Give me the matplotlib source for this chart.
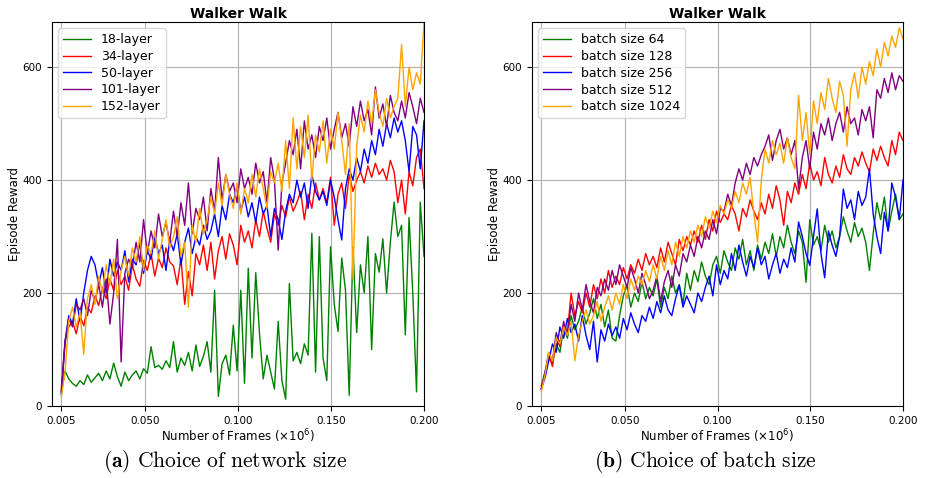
import numpy as np
import matplotlib
matplotlib.use("Agg")
import matplotlib.pyplot as plt

# eixo x comum (milhoes de frames)
frames = np.linspace(0.005, 0.2, 98)

# (a) tamanho da rede
net_labels = ["18-layer", "34-layer", "50-layer", "101-layer", "152-layer"]
layer18 = [25, 62, 48, 40, 35, 45, 38, 55, 42, 50,
           58, 45, 62, 48, 76, 52, 35, 60, 45, 55,
           62, 48, 66, 58, 105, 68, 72, 65, 80, 68,
           114, 60, 85, 72, 95, 62, 108, 70, 88, 114,
           60, 205, 17, 75, 90, 55, 143, 62, 205, 40,
           244, 85, 236, 129, 48, 90, 60, 30, 150, 45,
           12, 217, 80, 95, 75, 110, 90, 306, 60, 300,
           85, 45, 282, 180, 132, 262, 205, 19, 282, 130,
           250, 200, 300, 100, 270, 237, 296, 200, 290, 361,
           300, 320, 126, 334, 200, 25, 361, 265]
layer34 = [30, 115, 140, 150, 128, 160, 142, 175, 165, 195,
           178, 210, 190, 225, 205, 240, 215, 230, 205, 250,
           225, 212, 258, 240, 270, 230, 262, 245, 280, 255,
           248, 215, 262, 180, 238, 195, 270, 250, 285, 240,
           290, 225, 275, 300, 260, 305, 285, 250, 320, 290,
           310, 280, 330, 300, 345, 315, 290, 340, 320, 355,
           335, 370, 345, 360, 380, 330, 375, 350, 395, 365,
           385, 360, 405, 320, 375, 395, 350, 410, 380, 400,
           415, 395, 425, 405, 430, 410, 420, 400, 435, 415,
           360, 400, 340, 415, 390, 440, 455, 385]
layer50 = [20, 115, 160, 145, 190, 150, 200, 240, 265, 250,
           215, 245, 200, 260, 230, 255, 240, 275, 220, 260,
           250, 290, 235, 275, 260, 300, 270, 285, 240, 295,
           275, 305, 250, 290, 315, 270, 300, 285, 320, 295,
           310, 340, 300, 355, 330, 375, 360, 390, 345, 370,
           335, 360, 325, 370, 340, 355, 300, 350, 330, 295,
           345, 375, 360, 400, 370, 395, 350, 410, 380, 365,
           380, 355, 400, 370, 330, 294, 385, 420, 400, 440,
           415, 455, 430, 470, 445, 490, 460, 500, 475, 510,
           485, 505, 470, 415, 495, 480, 420, 505]
layer101 = [25, 110, 155, 140, 180, 170, 190, 160, 205, 185,
            215, 175, 225, 145, 200, 295, 78, 235, 260, 245,
            290, 255, 330, 270, 310, 280, 340, 300, 325, 290,
            345, 300, 360, 320, 395, 305, 350, 330, 370, 310,
            385, 345, 440, 365, 410, 380, 395, 360, 420, 385,
            405, 375, 430, 395, 415, 360, 440, 400, 276, 395,
            430, 470, 445, 490, 420, 505, 455, 480, 440, 495,
            470, 510, 455, 490, 520, 475, 500, 460, 530, 495,
            540, 505, 525, 480, 565, 510, 535, 495, 550, 520,
            505, 540, 510, 555, 530, 500, 545, 520]
layer152 = [15, 60, 150, 175, 140, 165, 92, 190, 215, 180,
            230, 200, 250, 215, 260, 190, 240, 265, 230, 280,
            255, 300, 240, 285, 270, 310, 260, 295, 330, 280,
            300, 335, 265, 290, 175, 320, 290, 350, 305, 330,
            370, 340, 395, 355, 410, 375, 350, 395, 340, 385,
            360, 410, 370, 420, 385, 350, 415, 395, 430, 380,
            470, 385, 510, 420, 495, 440, 515, 400, 480, 450,
            505, 430, 490, 455, 520, 470, 410, 500, 225, 460,
            515, 485, 540, 500, 560, 520, 495, 545, 510, 530,
            545, 640, 530, 600, 560, 590, 570, 680]

# (b) tamanho do batch
batch_labels = ["batch size 64", "batch size 128", "batch size 256",
                "batch size 512", "batch size 1024"]
batch64 = [35, 60, 85, 75, 110, 95, 140, 120, 160, 135,
           150, 175, 145, 165, 190, 155, 180, 140, 170, 120,
           115, 160, 195, 214, 175, 200, 185, 220, 190, 210,
           195, 225, 175, 210, 190, 230, 200, 215, 180, 235,
           205, 240, 220, 255, 230, 215, 250, 265, 235, 275,
           255, 240, 280, 260, 295, 250, 275, 240, 285, 260,
           290, 270, 305, 265, 300, 280, 320, 290, 270, 310,
           290, 219, 330, 285, 300, 275, 320, 290, 310, 280,
           300, 335, 310, 290, 325, 300, 315, 290, 240, 305,
           360, 330, 370, 310, 345, 375, 330, 340]
batch128 = [30, 55, 90, 70, 120, 105, 145, 130, 200, 160,
            185, 165, 200, 175, 215, 190, 225, 200, 240, 210,
            230, 215, 245, 225, 250, 235, 260, 240, 270, 250,
            265, 245, 280, 255, 290, 270, 250, 295, 275, 300,
            285, 310, 290, 320, 295, 330, 310, 345, 325, 340,
            330, 355, 340, 310, 350, 335, 365, 345, 330, 360,
            340, 375, 350, 390, 365, 320, 380, 360, 395, 375,
            410, 385, 430, 400, 415, 390, 440, 410, 395, 425,
            405, 445, 420, 410, 440, 425, 450, 430, 415, 455,
            435, 460, 440, 425, 470, 445, 485, 470]
batch256 = [30, 50, 80, 110, 95, 140, 120, 155, 130, 145,
            115, 160, 125, 100, 150, 78, 135, 115, 145, 125,
            140, 120, 155, 135, 165, 145, 130, 160, 150, 175,
            155, 185, 165, 195, 170, 160, 190, 214, 175, 195,
            180, 165, 200, 185, 210, 230, 195, 250, 215, 240,
            225, 270, 240, 285, 255, 230, 265, 245, 280, 250,
            265, 225, 250, 270, 235, 260, 245, 280, 255, 326,
            300, 270, 249, 300, 349, 270, 227, 310, 285, 265,
            300, 384, 350, 365, 330, 380, 355, 370, 420, 340,
            300, 270, 343, 310, 395, 370, 330, 400]
batch512 = [30, 60, 95, 80, 130, 110, 150, 125, 180, 150,
            200, 170, 215, 185, 165, 210, 195, 225, 205, 240,
            215, 250, 230, 210, 245, 225, 200, 235, 215, 190,
            205, 230, 185, 220, 240, 210, 250, 230, 270, 255,
            285, 265, 300, 280, 310, 295, 330, 305, 350, 345,
            375, 355, 395, 420, 400, 430, 410, 440, 425, 445,
            460, 480, 435, 470, 490, 455, 475, 445, 470, 384,
            440, 470, 420, 485, 455, 500, 480, 510, 470, 500,
            520, 485, 530, 500, 510, 480, 525, 505, 530, 475,
            560, 545, 580, 555, 590, 560, 585, 575]
batch1024 = [25, 55, 95, 80, 120, 110, 140, 125, 150, 80,
             125, 150, 170, 145, 160, 185, 150, 175, 195, 170,
             200, 180, 215, 190, 225, 205, 230, 215, 240, 220,
             250, 225, 265, 240, 275, 250, 290, 265, 300, 280,
             310, 290, 320, 300, 335, 315, 345, 325, 355, 340,
             365, 350, 380, 360, 395, 375, 405, 340, 290, 400,
             455, 430, 470, 445, 465, 430, 475, 440, 420, 550,
             470, 520, 445, 540, 500, 555, 525, 580, 545, 520,
             575, 550, 460, 560, 590, 545, 600, 570, 610, 585,
             632, 600, 644, 620, 655, 635, 670, 650]

colors = ["green", "red", "blue", "purple", "orange"]
xticks = [0.005, 0.05, 0.1, 0.15, 0.2]
xticklabels = ["0.005", "0.050", "0.100", "0.150", "0.200"]
yticks = [0, 200, 400, 600]

fig = plt.figure(figsize=(9.25, 4.78), dpi=100)
ax1 = fig.add_axes([52 / 925, 72 / 478, 372 / 925, 384 / 478])
ax2 = fig.add_axes([532 / 925, 72 / 478, 371 / 925, 384 / 478])

painel = [(ax1, [layer18, layer34, layer50, layer101, layer152], net_labels),
          (ax2, [batch64, batch128, batch256, batch512, batch1024], batch_labels)]

for ax, series, labels in painel:
    for ys, lab, c in zip(series, labels, colors):
        ax.plot(frames, ys, color=c, lw=1.0, label=lab)
    ax.set_xlim(0, 0.2)
    ax.set_ylim(0, 680)
    ax.set_xticks(xticks)
    ax.set_xticklabels(xticklabels)
    ax.set_yticks(yticks)
    ax.tick_params(labelsize=7.5)
    ax.grid(True, color="#b0b0b0", lw=0.8)
    ax.set_title("Walker Walk", fontsize=10, fontweight="bold", pad=3)
    ax.set_ylabel("Episode Reward", fontsize=8.5)
    ax.yaxis.set_label_coords(-0.083, 0.5)
    ax.set_xlabel(r"Number of Frames ($\times 10^6$)", fontsize=8.5, labelpad=1)
    ax.legend(loc="upper left", fontsize=9, handlelength=2.2, labelspacing=0.3)

fig.text(0.243, 0.022, r"$\mathbf{(a)}$ $\mathrm{Choice\ of\ network\ size}$",
         ha="center", fontsize=15.5, math_fontfamily="cm")
fig.text(0.763, 0.022, r"$\mathbf{(b)}$ $\mathrm{Choice\ of\ batch\ size}$",
         ha="center", fontsize=15.5, math_fontfamily="cm")

plt.savefig("out.png", dpi=100)
